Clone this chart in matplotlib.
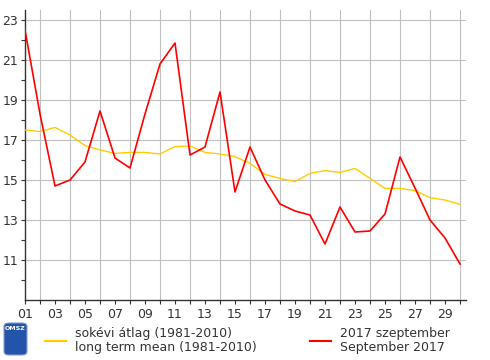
import matplotlib
matplotlib.use("Agg")
import matplotlib.pyplot as plt
from matplotlib.patches import FancyBboxPatch
from matplotlib.ticker import FixedLocator

# daily mean temperature, September
days = list(range(1, 31))
sept_2017 = [22.5, 18.3, 14.7, 15.0, 15.9, 18.45, 16.1, 15.6, 18.3, 20.8,
             21.85, 16.25, 16.65, 19.4, 14.4, 16.65, 15.0, 13.8, 13.45, 13.25,
             11.8, 13.65, 12.4, 12.45, 13.3, 16.15, 14.6, 13.0, 12.1, 10.8]
long_mean = [17.5, 17.42, 17.63, 17.25, 16.72, 16.5, 16.33, 16.38, 16.38, 16.3,
             16.67, 16.7, 16.38, 16.3, 16.17, 15.83, 15.28, 15.08, 14.92, 15.33,
             15.47, 15.38, 15.58, 15.08, 14.58, 14.58, 14.47, 14.12, 14.0, 13.78]
xlabels = ["%02d" % d for d in days[::2]]
yticks = [11, 13, 15, 17, 19, 21, 23]
yminor = [10, 12, 14, 16, 18, 20, 22]

txt = "#333333"
plt.rcParams['font.family'] = ['DejaVu Sans']

fig = plt.figure(figsize=(4.9, 3.6), dpi=100)
ax = fig.add_axes([25/490, 60/360, 441/490, 290/360])

ax.plot(days, long_mean, color="#ffcc00", lw=1.0, zorder=3)
ax.plot(days, sept_2017, color="#ff0000", lw=1.2, zorder=4)

ax.set_xlim(1, 30.4)
ax.set_ylim(9, 23.5)

ax.xaxis.set_major_locator(FixedLocator(days[::2]))
ax.set_xticklabels(xlabels)
ax.xaxis.set_minor_locator(FixedLocator(days))
ax.yaxis.set_major_locator(FixedLocator(yticks))
ax.yaxis.set_minor_locator(FixedLocator(yminor))

ax.grid(True, which="major", axis="y", color="#c0c0c0", lw=0.8)
ax.grid(True, which="minor", axis="x", color="#c0c0c0", lw=0.8)
ax.set_axisbelow(True)

for s in ["top", "right"]:
    ax.spines[s].set_visible(False)
for s in ["left", "bottom"]:
    ax.spines[s].set_color(txt)
    ax.spines[s].set_linewidth(1.0)

ax.tick_params(axis="both", which="both", colors=txt, labelcolor=txt,
               labelsize=9, length=3, width=0.8)
ax.tick_params(axis="y", pad=2)
ax.tick_params(axis="x", pad=3)

# legend
fs = 9
fig.add_artist(plt.Line2D([45/490, 66/490], [19/360, 19/360], color="#ffcc00", lw=1.5))
fig.text(75/490, 27/360, "sokévi átlag (1981-2010)", fontsize=fs, color=txt, va="center")
fig.text(75/490, 13/360, "long term mean (1981-2010)", fontsize=fs, color=txt, va="center")
fig.add_artist(plt.Line2D([310/490, 331/490], [19/360, 19/360], color="#ff0000", lw=1.5))
fig.text(340/490, 27/360, "2017 szeptember", fontsize=fs, color=txt, va="center")
fig.text(340/490, 13/360, "September 2017", fontsize=fs, color=txt, va="center")

# OMSZ logo
logo = FancyBboxPatch((4/490, 5/360), 23/490, 32/360, boxstyle="round,pad=0,rounding_size=0.01",
                      transform=fig.transFigure, facecolor="#2255aa", edgecolor="#8899cc", lw=0.8)
fig.add_artist(logo)
fig.text(15.5/490, 31/360, "OMSZ", fontsize=4.5, color="white", ha="center", va="center",
         fontweight="bold")

fig.savefig("out.png", dpi=100)
